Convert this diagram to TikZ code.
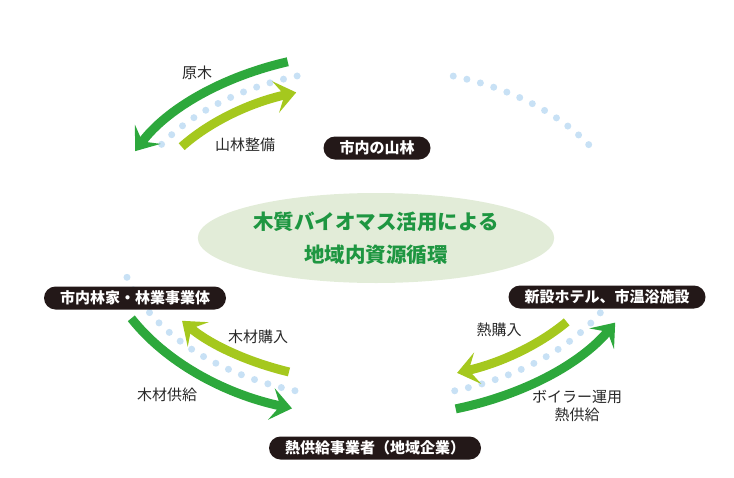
\documentclass[tikz,border=0pt]{standalone}
\usepackage{fontspec}
\setmainfont{Noto Sans CJK JP}
\usetikzlibrary{arrows.meta,shapes.geometric}
\definecolor{arrowdark}{RGB}{45,168,60}
\definecolor{arrowlight}{RGB}{165,200,30}
\definecolor{dotblue}{RGB}{200,225,245}
\definecolor{ovalfill}{RGB}{226,236,216}
\definecolor{boxfill}{RGB}{35,24,24}
\definecolor{titlegreen}{RGB}{30,150,65}
\definecolor{labelgray}{RGB}{40,40,40}
\begin{document}
\begin{tikzpicture}[x=1pt,y=1pt,
  stagebox/.style={fill=boxfill, text=white, font=\bfseries\fontsize{15}{18}\selectfont,
    rounded corners=11.5pt, minimum height=23pt, inner xsep=16pt, inner ysep=0pt},
  flowlabel/.style={text=labelgray, font=\fontsize{15}{18}\selectfont, align=center},
  darkflow/.style={draw=arrowdark, line width=9pt, -{Stealth[length=21pt,width=32pt,inset=9pt]}},
  lightflow/.style={draw=arrowlight, line width=9pt, -{Stealth[length=21pt,width=32pt,inset=9pt]}},
  dotring/.style={draw=dotblue, line width=7pt, line cap=round, dash pattern=on 0pt off 14pt}]
\useasboundingbox (0,0) rectangle (734,-477);
\coordinate (c) at (375,-231);
\draw[dotring] ([shift={(108:252 and 163)}]c) arc[start angle=108, end angle=152, x radius=252, y radius=163];
\draw[dotring] ([shift={(32:252 and 163)}]c) arc[start angle=32, end angle=72, x radius=252, y radius=163];
\draw[dotring] ([shift={(196:258 and 168)}]c) arc[start angle=196, end angle=252, x radius=258, y radius=168];
\draw[dotring] ([shift={(-72:258 and 168)}]c) arc[start angle=-72, end angle=-18, x radius=258, y radius=168];
\coordinate (genboku) at ([shift={(109:268 and 179)}]c);
\coordinate (seibi) at ([shift={(145:236 and 147)}]c);
\coordinate (kyokyu) at ([shift={(208:276 and 186)}]c);
\coordinate (konyu) at ([shift={(249:240 and 151)}]c);
\coordinate (netsukonyu) at ([shift={(-37:240 and 151)}]c);
\coordinate (boiler) at ([shift={(-73:276 and 186)}]c);
\draw[darkflow] (genboku) arc[start angle=109, end angle=153.5, x radius=268, y radius=179];
\draw[lightflow] (seibi) arc[start angle=145, end angle=109.5, x radius=236, y radius=147];
\draw[darkflow] (kyokyu) arc[start angle=208, end angle=252.5, x radius=276, y radius=186];
\draw[lightflow] (konyu) arc[start angle=249, end angle=216.5, x radius=240, y radius=151];
\draw[lightflow] (netsukonyu) arc[start angle=-37, end angle=-70, x radius=240, y radius=151];
\draw[darkflow] (boiler) arc[start angle=-73, end angle=-29.5, x radius=276, y radius=186];
\node[ellipse, fill=ovalfill, minimum width=322pt, minimum height=90pt, align=center,
  text=titlegreen, font=\bfseries\fontsize{20.5}{33}\selectfont] (cycle) at (376,-238)
  {木質バイオマス活用による\\地域内資源循環};
\node[stagebox] (yama) at (377,-148) {市内の山林};
\node[stagebox] (rinka) at (135,-298) {市内林家・林業事業体};
\node[stagebox] (hotel) at (607,-297) {新設ホテル、市温浴施設};
\node[stagebox] (netsu) at (375,-448) {熱供給事業者（地域企業）};
\node[flowlabel] (lgenboku) at (197,-73) {原木};
\node[flowlabel] (lseibi) at (245,-145) {山林整備};
\node[flowlabel] (lkonyu) at (258,-337) {木材購入};
\node[flowlabel] (lkyokyu) at (167,-395) {木材供給};
\node[flowlabel] (lnetsu) at (499,-330) {熱購入};
\node[flowlabel] (lboiler) at (577,-406) {ボイラー運用\\熱供給};
\end{tikzpicture}
\end{document}
